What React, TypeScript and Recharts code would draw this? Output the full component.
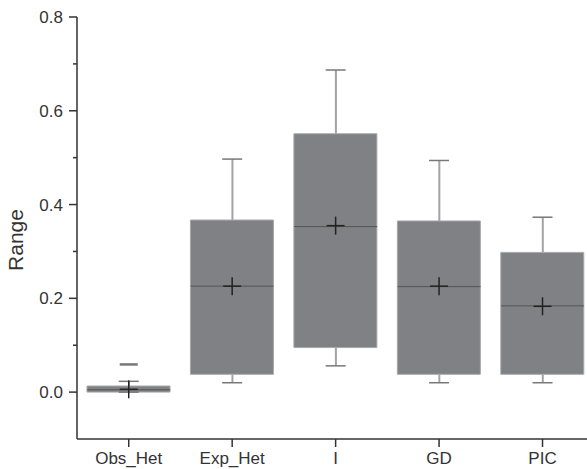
import { ComposedChart, Bar, Scatter, XAxis, YAxis, Label } from 'recharts';

const categories = ['Obs_Het', 'Exp_Het', 'I', 'GD', 'PIC'];
const whiskerLow = [0.0, 0.02, 0.056, 0.02, 0.02];
const q1 = [0.0, 0.038, 0.095, 0.038, 0.038];
const median = [0.005, 0.226, 0.353, 0.225, 0.184];
const q3 = [0.013, 0.367, 0.551, 0.365, 0.298];
const whiskerHigh = [0.023, 0.497, 0.687, 0.494, 0.373];
const mean = [0.006, 0.226, 0.355, 0.226, 0.183];
const maxValue = [0.059, null, null, null, null];
const yTicks = [-0.1, 0, 0.1, 0.2, 0.3, 0.4, 0.5, 0.6, 0.7, 0.8];

const rows = categories.map((name, i) => ({
  x: i + 1,
  name,
  lo: whiskerLow[i],
  q1: q1[i],
  median: median[i],
  q3: q3[i],
  hi: whiskerHigh[i],
  mean: mean[i],
  max: maxValue[i],
}));

const FONT = '"Liberation Sans", Arial, sans-serif';
const X_DOMAIN = [0.5, 5.43];

const YTick = (props: any) => {
  const { x, y, payload } = props;
  const v = payload.value;
  if (v < 0) return null;
  const major = Math.round(v * 10) % 2 === 0;
  return (
    <g>
      <line x1={x - (major ? 8 : 4)} x2={x} y1={y} y2={y} stroke="#333" strokeWidth={1.5} />
      {major && (
        <text x={x - 14} y={y} dy="0.35em" textAnchor="end" fill="#333" fontSize={17} fontFamily={FONT}>
          {v.toFixed(1)}
        </text>
      )}
    </g>
  );
};

const Cap = (props: any) => {
  const { cx, cy } = props;
  return <line x1={cx - 10} x2={cx + 10} y1={cy} y2={cy} stroke="#777" strokeWidth={1.5} />;
};

const MedianLine = (props: any) => {
  const { cx, cy } = props;
  return <line x1={cx - 41.5} x2={cx + 41.5} y1={cy} y2={cy} stroke="#555" strokeWidth={1} />;
};

const Cross = (props: any) => {
  const { cx, cy } = props;
  return (
    <g stroke="#222" strokeWidth={1.5}>
      <line x1={cx - 9} x2={cx + 9} y1={cy} y2={cy} />
      <line x1={cx} x2={cx} y1={cy - 9} y2={cy + 9} />
    </g>
  );
};

const MaxMark = (props: any) => {
  const { cx, cy, payload } = props;
  if (payload == null || payload.max == null) return null;
  return <line x1={cx - 9} x2={cx + 9} y1={cy} y2={cy} stroke="#777" strokeWidth={2.5} />;
};

const RangeLabel = (props: any) => {
  const vb = props.viewBox || { x: 0, y: 17, width: 77, height: 422 };
  const cx = vb.x + 23;
  const cy = vb.y + vb.height / 2 + 12;
  return (
    <text
      x={cx}
      y={cy}
      transform={`rotate(-90 ${cx} ${cy})`}
      textAnchor="middle"
      fill="#333"
      fontSize={21}
      fontFamily={FONT}
    >
      Range
    </text>
  );
};

export default function App() {
  return (
    <div style={{ position: 'absolute', left: 0, top: 0, background: '#fff' }}>
      <ComposedChart width={587} height={469} data={rows} margin={{ top: 17, right: 0, bottom: 0, left: 0 }}>
        <XAxis
          xAxisId="main"
          dataKey="x"
          type="number"
          domain={X_DOMAIN}
          allowDataOverflow
          ticks={[1, 2, 3, 4, 5]}
          tickFormatter={(v: number) => categories[v - 1]}
          height={30}
          tickSize={8}
          tickMargin={5}
          tick={{ fill: '#333', fontSize: 17, fontFamily: FONT }}
          tickLine={{ stroke: '#333', strokeWidth: 1.5 }}
          axisLine={{ stroke: '#333', strokeWidth: 1.5 }}
        />
        <XAxis xAxisId="up" dataKey="x" type="number" domain={X_DOMAIN} allowDataOverflow height={0} hide />
        <XAxis xAxisId="low" dataKey="x" type="number" domain={X_DOMAIN} allowDataOverflow height={0} hide />
        <YAxis
          domain={[-0.1, 0.8]}
          ticks={yTicks}
          allowDataOverflow
          width={77}
          tickSize={0}
          tickMargin={0}
          tickLine={false}
          tick={<YTick />}
          axisLine={{ stroke: '#333', strokeWidth: 1.5 }}
        >
          <Label content={<RangeLabel />} />
        </YAxis>
        <Bar xAxisId="up" dataKey={(r: any) => [r.q3, r.hi]} barSize={2} fill="#a3a3a3" isAnimationActive={false} />
        <Bar xAxisId="low" dataKey={(r: any) => [r.lo, r.q1]} barSize={2} fill="#a3a3a3" isAnimationActive={false} />
        <Bar
          xAxisId="main"
          dataKey={(r: any) => [r.q1, r.q3]}
          barSize={83}
          fill="#808185"
          stroke="#a8a8a8"
          strokeWidth={1}
          isAnimationActive={false}
        />
        <Scatter xAxisId="main" dataKey="hi" shape={<Cap />} isAnimationActive={false} />
        <Scatter xAxisId="main" dataKey="lo" shape={<Cap />} isAnimationActive={false} />
        <Scatter xAxisId="main" dataKey="median" shape={<MedianLine />} isAnimationActive={false} />
        <Scatter xAxisId="main" dataKey="mean" shape={<Cross />} isAnimationActive={false} />
        <Scatter xAxisId="main" dataKey="max" shape={<MaxMark />} isAnimationActive={false} />
      </ComposedChart>
    </div>
  );
}
